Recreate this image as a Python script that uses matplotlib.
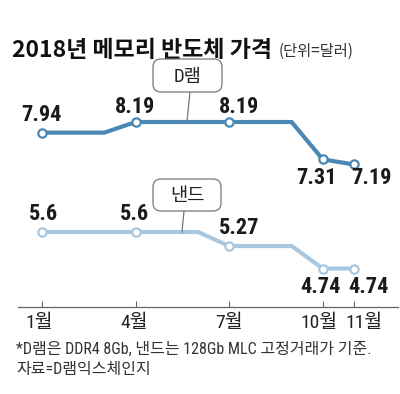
import matplotlib
matplotlib.use("Agg")
import matplotlib.pyplot as plt
from matplotlib import font_manager
from matplotlib.patches import FancyBboxPatch

# ---- data ----
months = [1, 2, 3, 4, 5, 6, 7, 8, 9, 10, 11]
dram = [7.94, 7.94, 7.94, 8.19, 8.19, 8.19, 8.19, 8.19, 8.19, 7.31, 7.19]
nand = [5.6, 5.6, 5.6, 5.6, 5.6, 5.6, 5.27, 5.27, 5.27, 4.74, 4.74]
marked_months = [1, 4, 7, 10, 11]
tick_months = [1, 4, 7, 10, 11]
tick_labels = ["1월", "4월", "7월", "10월", "11월"]
title = "2018년 메모리 반도체 가격"
unit = "(단위=달러)"
dram_name = "D램"
nand_name = "낸드"
note1 = "*D램은 DDR4 8Gb, 낸드는 128Gb MLC 고정거래가 기준."
note2 = "자료=D램익스체인지"

KR = "Noto Sans CJK KR"
names = {f.name for f in font_manager.fontManager.ttflist}
narrow = [n for n in ["Roboto Condensed", "Liberation Sans Narrow"] if n in names]
num_kw = dict(family=narrow + ["DejaVu Sans"], fontstretch="condensed", fontweight="bold")
mix_family = narrow + [KR]

W, H = 400, 394
fig = plt.figure(figsize=(W / 100, H / 100), dpi=100)

# main axes, positioned in pixels
ax_left, ax_right, ax_top, ax_bot = 18, 398, 60, 307
ax = fig.add_axes([ax_left / W, 1 - ax_bot / H, (ax_right - ax_left) / W, (ax_bot - ax_top) / H])
px_per_month = 31.2
ax.set_xlim(1 - (42 - ax_left) / px_per_month, 1 + (ax_right - 42) / px_per_month)
px_per_unit = 42.47
ax.set_ylim(5.6 - (ax_bot - 232) / px_per_unit, 8.19 + (122 - ax_top) / px_per_unit)

c_dram = "#4b87b3"
c_nand = "#a9c8e0"

for vals, col in [(dram, c_dram), (nand, c_nand)]:
    ax.plot(months, vals, color=col, lw=3.0, solid_capstyle="butt", zorder=2)
    mv = [vals[months.index(m)] for m in marked_months]
    ax.plot(marked_months, mv, ls="none", marker="o", ms=6, mfc="white", mec=col, mew=1.6, zorder=3)

# value labels (pixel offsets)
d_off = {1: (-1, 18), 4: (-1, 15), 7: (10, 15), 10: (-6, -19), 11: (17, -14)}
n_off = {1: (2, 18), 4: (-1, 18), 7: (10, 18), 10: (-2, -18), 11: (14, -18)}
for vals, offs in [(dram, d_off), (nand, n_off)]:
    for m in marked_months:
        v = vals[months.index(m)]
        s = f"{v:g}"
        ax.annotate(s, (m, v), xytext=offs[m], textcoords="offset pixels",
                    ha="center", va="center", fontsize=16, color="#1a1a1a", **num_kw)

for s in ["top", "left", "right"]:
    ax.spines[s].set_visible(False)
ax.spines["bottom"].set_color("#666666")
ax.spines["bottom"].set_linewidth(0.9)
ax.set_yticks([])
ax.set_xticks(tick_months)
ax.set_xticklabels([])
ax.tick_params(axis="x", direction="in", length=4, width=0.8, color="#666666")
ax.patch.set_alpha(0)

lab_dx = {1: -3, 4: -1, 7: 0, 10: -4, 11: 10}
for m, lab in zip(tick_months, tick_labels):
    ax.annotate(lab, (m, 0), xycoords=("data", "axes fraction"), xytext=(lab_dx[m], -16),
                textcoords="offset pixels", ha="center", va="center",
                family=mix_family, fontsize=14, color="#222222")

# overlay in pixel coordinates
ov = fig.add_axes([0, 0, 1, 1])
ov.set_xlim(0, W)
ov.set_ylim(H, 0)
ov.axis("off")
ov.patch.set_alpha(0)

ov.text(12, 57, title, family=KR, fontweight="bold", fontsize=16.5, color="#111111", ha="left", va="baseline")
ov.text(279, 56, unit, family=KR, fontsize=11, color="#333333", ha="left", va="baseline")

def callout(x0, y0, w, h, label, p_top, p_bot):
    ov.plot([p_top[0], p_bot[0]], [p_top[1], p_bot[1]], color="#777777", lw=0.9, zorder=4)
    box = FancyBboxPatch((x0, y0), w, h, boxstyle="round,pad=0,rounding_size=8",
                         fc="white", ec="#777777", lw=0.9, zorder=5)
    ov.add_patch(box)
    ov.text(x0 + w / 2, y0 + h / 2 + 1, label, family=mix_family, fontsize=13.5, color="#222222",
            ha="center", va="center", zorder=6)

callout(153, 59, 69, 33, dram_name, (190, 92), (187, 121))
callout(153, 179, 68, 32, nand_name, (184, 211), (182, 232))

ov.text(16, 354, note1, family=mix_family, fontsize=11.5, color="#333333", ha="left", va="baseline")
ov.text(16, 374, note2, family=mix_family, fontsize=11.5, color="#333333", ha="left", va="baseline")

fig.savefig("out.png", dpi=100, facecolor="white")
